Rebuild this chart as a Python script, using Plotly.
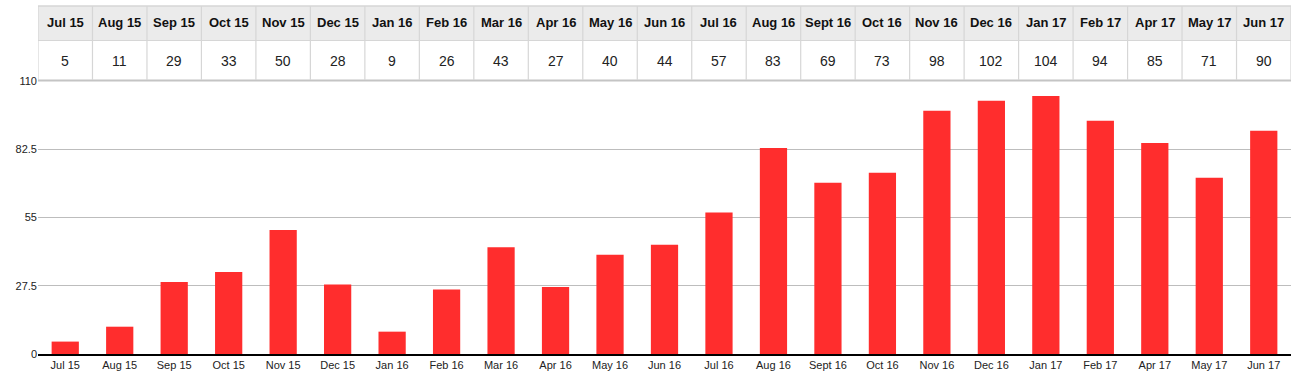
import plotly.graph_objects as go

months = ["Jul 15", "Aug 15", "Sep 15", "Oct 15", "Nov 15", "Dec 15", "Jan 16", "Feb 16",
          "Mar 16", "Apr 16", "May 16", "Jun 16", "Jul 16", "Aug 16", "Sept 16", "Oct 16",
          "Nov 16", "Dec 16", "Jan 17", "Feb 17", "Apr 17", "May 17", "Jun 17"]
values = [5, 11, 29, 33, 50, 28, 9, 26, 43, 27, 40, 44, 57, 83, 69, 73, 98, 102, 104, 94, 85, 71, 90]
y_ticks = [0, 27.5, 55, 82.5, 110]
y_tick_labels = ["0", "27.5", "55", "82.5", "110"]

W, H = 1299, 374
ml, mr, mt, mb = 38, 8, 6, 20
plot_h = H - mt - mb
bottom_px = H - mb


def py(p):
    return (bottom_px - p) / plot_h


ytop = py(81)
n = len(months)
FONT = "Liberation Sans, Arial, Helvetica, sans-serif"

fig = go.Figure()
fig.add_trace(go.Bar(x=months, y=values, marker_color="#ff2d2d", marker_line_width=0,
                     hoverinfo="x+y"))

shapes = []
shapes.append(dict(type="rect", xref="x", yref="paper", x0=-0.5, x1=n - 0.5,
                   y0=py(40), y1=py(6), fillcolor="#ebebeb", line_width=0, layer="above"))
shapes.append(dict(type="rect", xref="x", yref="paper", x0=-0.5, x1=n - 0.5,
                   y0=py(80), y1=py(40), fillcolor="white", line_width=0, layer="above"))
for p, c, w in [(6, "#d6d6d6", 1.5), (40.5, "#d6d6d6", 1), (80.5, "#c4c4c4", 2)]:
    shapes.append(dict(type="line", xref="x", yref="paper", x0=-0.5, x1=n - 0.5,
                       y0=py(p), y1=py(p), line=dict(color=c, width=w), layer="above"))
for i in range(n + 1):
    shapes.append(dict(type="line", xref="x", yref="paper", x0=i - 0.5, x1=i - 0.5,
                       y0=py(80), y1=py(6), line=dict(color="#d6d6d6", width=1.2), layer="above"))

annotations = []
for i, (m, v) in enumerate(zip(months, values)):
    annotations.append(dict(x=i, y=py(23), xref="x", yref="paper", text="<b>%s</b>" % m,
                            xanchor="center", yanchor="middle",
                            showarrow=False, font=dict(family=FONT, size=13, color="#111")))
    annotations.append(dict(x=i, y=py(61), xref="x", yref="paper", text=str(v),
                            xanchor="center", yanchor="middle",
                            showarrow=False, font=dict(family=FONT, size=14, color="#222")))

fig.update_layout(
    width=W, height=H,
    margin=dict(l=ml, r=mr, t=mt, b=mb, autoexpand=False),
    paper_bgcolor="white", plot_bgcolor="white",
    showlegend=False, bargap=0.5,
    font=dict(family=FONT, size=11, color="#222"),
    shapes=shapes, annotations=annotations,
    xaxis=dict(showline=True, linecolor="#000", linewidth=1.5, ticks="", showgrid=False,
               range=[-0.5, n - 0.5], automargin=False,
               tickfont=dict(size=11, color="#222"), domain=[0, 1]),
    yaxis=dict(domain=[0, ytop], range=[0, 110], tickvals=y_ticks, ticktext=y_tick_labels,
               showgrid=True, gridcolor="#bdbdbd", gridwidth=1, zeroline=False, automargin=False,
               ticks="", tickfont=dict(size=11, color="#222"), fixedrange=True),
)

fig.write_html("out.html", config={"displayModeBar": False},
               post_script="document.body.style.margin='0';document.body.style.overflow='hidden';")
